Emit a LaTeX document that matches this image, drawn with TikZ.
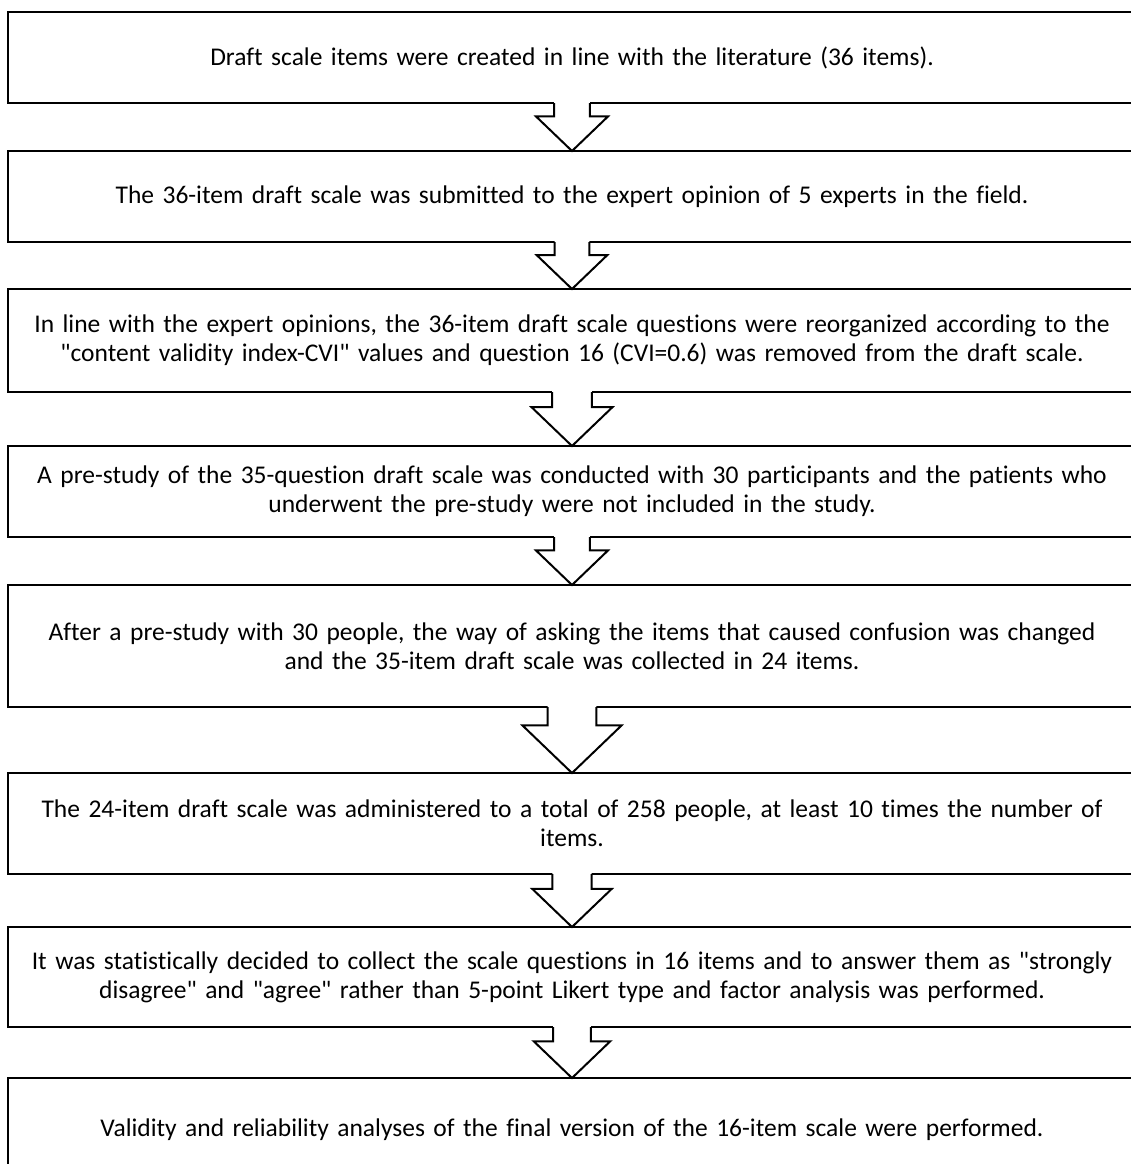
\documentclass[tikz,border=0pt]{standalone}
\usepackage{fontspec}
\setmainfont{Carlito}[Ligatures=NoCommon]
\usetikzlibrary{calc}
% block arrow from one stage to the next, sized by the gap
\newcommand{\stagearrow}[2]{%
  \fill[white] let \p1=(#1.south), \p2=(#2.north), \n1={\y1-\y2} in
    ({\x1-0.37*\n1},{\y1+1.5pt}) -- ({\x1-0.37*\n1},{\y1-0.28*\n1}) -- ({\x1-0.75*\n1},{\y1-0.28*\n1})
    -- (\x2,\y2) -- ({\x1+0.75*\n1},{\y1-0.28*\n1}) -- ({\x1+0.37*\n1},{\y1-0.28*\n1})
    -- ({\x1+0.37*\n1},{\y1+1.5pt}) -- cycle;
  \draw[flow] let \p1=(#1.south), \p2=(#2.north), \n1={\y1-\y2} in
    ({\x1-0.37*\n1},\y1) -- ({\x1-0.37*\n1},{\y1-0.28*\n1}) -- ({\x1-0.75*\n1},{\y1-0.28*\n1})
    -- (\x2,\y2) -- ({\x1+0.75*\n1},{\y1-0.28*\n1}) -- ({\x1+0.37*\n1},{\y1-0.28*\n1})
    -- ({\x1+0.37*\n1},\y1);
}
\newcommand{\qq}{\textquotedbl}
\begin{document}
\begin{tikzpicture}[x=1pt, y=-1pt,
  stage/.style={rectangle, draw, line width=2pt, outer sep=0pt, inner sep=0pt,
    minimum width=1128pt, text width=1116pt, align=center,
    font=\fontsize{25.5}{29}\selectfont},
  flow/.style={line width=2pt, line join=miter}]
  \useasboundingbox (0,0) rectangle (1131,1164);
  % Nodes
  \node (S1) [stage, minimum height=91pt] at (572, 57.5) {Draft scale items were created in line with the literature (36 items).};
  \node (S2) [stage, minimum height=91pt] at (572, 196.5) {The 36-item draft scale was submitted to the expert opinion of 5 experts in the field.};
  \node (S3) [stage, minimum height=103pt] at (572, 340.5) {In line with the expert opinions, the 36-item draft scale questions were reorganized according to the\\ \qq content validity index-CVI\qq{} values and question 16 (CVI=0.6) was removed from the draft scale.};
  \node (S4) [stage, minimum height=91pt] at (572, 491.5) {A pre-study of the 35-question draft scale was conducted with 30 participants and the patients who\\ underwent the pre-study were not included in the study.};
  \node (S5) [stage, minimum height=122pt] at (572, 646) {After a pre-study with 30 people, the way of asking the items that caused confusion was changed\\ and the 35-item draft scale was collected in 24 items.};
  \node (S6) [stage, minimum height=101pt] at (572, 823.5) {The 24-item draft scale was administered to a total of 258 people, at least 10 times the number of\\ items.};
  \node (S7) [stage, minimum height=100pt] at (572, 977) {It was statistically decided to collect the scale questions in 16 items and to answer them as \qq strongly\\ disagree\qq{} and \qq agree\qq{} rather than 5-point Likert type and factor analysis was performed.};
  \node (S8) [stage, minimum height=104pt] at (572, 1130) {Validity and reliability analyses of the final version of the 16-item scale were performed.};
  % Arrows
  \stagearrow{S1}{S2}
  \stagearrow{S2}{S3}
  \stagearrow{S3}{S4}
  \stagearrow{S4}{S5}
  \stagearrow{S5}{S6}
  \stagearrow{S6}{S7}
  \stagearrow{S7}{S8}
\end{tikzpicture}
\end{document}
